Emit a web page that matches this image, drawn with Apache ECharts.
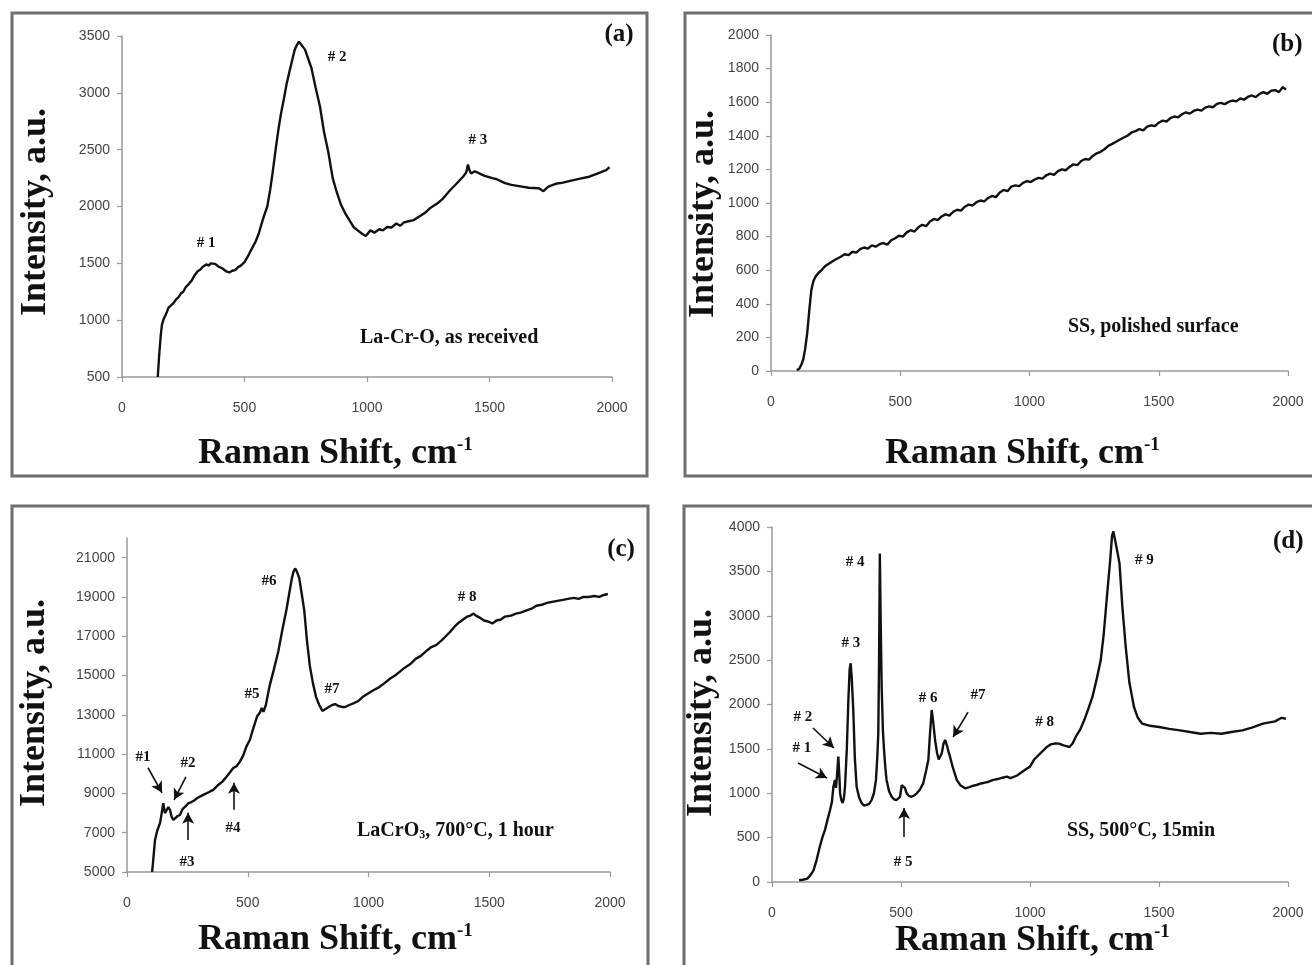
<!DOCTYPE html>
<html><head><meta charset="utf-8">
<script src="https://cdn.jsdelivr.net/npm/echarts@6/dist/echarts.min.js"></script>
<style>html,body{margin:0;padding:0;background:#fff}#c{width:1312px;height:965px}</style>
</head><body><div id="c"></div>
<script>
// ---------- DATA ----------
// Panel (a) La-Cr-O, as received
const xA=[146,152,158,163,170,181,190,198,210,220,230,241,250,260,275,285,295,309,320,330,344,355,362,369,380,395,410,425,438,450,462,473,485,500,516,530,545,558,570,580,593,605,615,627,640,650,661,672,685,696,705,714,722,730,740,747,760,773,790,808,825,842,860,876,893,911,928,945,962,980,995,1014,1030,1050,1065,1082,1100,1120,1135,1151,1170,1190,1220,1240,1260,1289,1310,1340,1365,1392,1405,1412,1418,1425,1440,1460,1480,1512,1530,1563,1590,1632,1660,1701,1720,1740,1770,1800,1838,1870,1907,1940,1976,1990];
const yA=[500,700,860,960,1010,1060,1110,1120,1150,1180,1200,1236,1250,1290,1324,1350,1390,1430,1445,1470,1490,1480,1500,1514,1495,1470,1455,1430,1420,1435,1440,1465,1480,1510,1570,1630,1690,1760,1850,1920,2000,2150,2300,2500,2700,2830,2950,3080,3200,3300,3380,3420,3450,3430,3400,3380,3300,3220,3050,2880,2650,2480,2250,2130,2020,1940,1880,1820,1790,1760,1740,1790,1770,1800,1790,1820,1815,1850,1830,1860,1870,1880,1920,1950,1990,2030,2070,2145,2200,2262,2300,2370,2320,2290,2310,2290,2270,2250,2240,2205,2190,2175,2165,2160,2135,2175,2200,2210,2230,2245,2262,2290,2320,2345];
// Panel (b) SS, polished surface
const xB=[100,110,118,125,132,140,148,156,164,172,184,196,210,225,240,255,270,285,300,315,330,345,360,375,390,405,420,435,450,465,480,495,510,525,540,555,570,585,600,615,630,645,660,675,690,705,720,735,750,765,780,795,810,825,840,855,870,885,900,915,930,945,960,975,990,1005,1020,1035,1050,1065,1080,1095,1110,1125,1140,1155,1170,1185,1200,1215,1230,1245,1260,1275,1290,1305,1320,1335,1350,1365,1380,1395,1410,1425,1440,1455,1470,1485,1500,1515,1530,1545,1560,1575,1590,1605,1620,1635,1650,1665,1680,1695,1710,1725,1740,1755,1770,1785,1800,1815,1830,1845,1860,1875,1890,1905,1920,1935,1950,1965,1980,1992];
const yB=[5,15,40,70,130,224,360,482,535,561,585,601,625,640,655,668,680,695,690,710,705,725,735,728,748,740,755,762,752,778,790,805,800,825,838,830,855,870,862,890,905,898,920,932,925,948,960,955,978,990,985,1005,1015,1010,1030,1042,1035,1062,1078,1070,1098,1105,1100,1120,1130,1125,1140,1150,1145,1165,1175,1168,1190,1200,1195,1215,1230,1225,1250,1262,1258,1280,1296,1305,1320,1340,1352,1365,1378,1390,1402,1420,1428,1440,1432,1455,1462,1458,1478,1490,1485,1505,1515,1510,1528,1540,1532,1548,1556,1550,1568,1575,1570,1590,1596,1588,1602,1610,1605,1622,1615,1632,1640,1630,1650,1660,1650,1668,1672,1660,1690,1675];
// Panel (c) LaCrO3, 700°C, 1 hour
const xC=[104,110,116,125,137,145,150,157,164,171,178,185,192,200,210,219,230,243,254,265,278,290,302,320,340,357,375,395,413,425,440,455,468,480,495,509,520,539,550,558,565,575,591,608,626,643,661,672,683,690,696,703,713,723,734,745,757,770,783,796,809,822,835,850,862,875,890,904,920,940,957,980,1000,1020,1043,1065,1090,1110,1130,1150,1175,1195,1217,1240,1260,1280,1304,1320,1340,1357,1375,1392,1409,1422,1435,1445,1460,1478,1495,1513,1530,1548,1565,1590,1610,1630,1652,1675,1695,1717,1739,1760,1782,1805,1826,1850,1870,1890,1913,1935,1955,1975,1991];
const yC=[5000,5800,6630,7100,7500,8100,8500,8000,7900,8300,8160,7800,7650,7700,7850,7900,8200,8350,8500,8550,8640,8750,8840,8950,9070,9180,9400,9600,9860,10050,10290,10400,10630,10900,11400,11730,12200,12930,13100,13350,13150,13500,14500,15300,16200,17300,18400,19200,19970,20300,20450,20300,19970,19200,18300,16800,15500,14600,13900,13500,13200,13300,13400,13500,13550,13450,13400,13400,13500,13600,13700,13950,14100,14250,14400,14600,14850,15000,15200,15400,15600,15850,16000,16250,16450,16550,16800,17000,17250,17500,17700,17850,18000,18050,18150,18050,17950,17800,17750,17650,17800,17850,18000,18050,18150,18200,18300,18400,18550,18600,18700,18750,18800,18850,18900,18950,18900,19000,19000,19050,19000,19100,19150];
// Panel (d) SS, 500°C, 15min
const xD=[105,120,137,150,161,173,185,195,205,215,225,232,238,244,248,252,257,261,264,269,274,279,283,290,296,301,305,309,315,321,328,338,348,357,367,377,386,395,403,408,412,415,418,421,425,430,434,439,444,454,464,474,483,490,496,503,509,515,522,531,541,551,561,573,586,597,606,613,619,625,632,640,646,651,658,665,671,678,684,690,700,716,730,748,765,780,793,810,825,840,858,875,893,910,925,950,984,1000,1016,1040,1065,1080,1095,1113,1130,1153,1165,1177,1195,1210,1226,1242,1258,1274,1286,1298,1310,1318,1323,1330,1340,1347,1358,1371,1385,1403,1418,1435,1465,1500,1540,1581,1620,1661,1700,1742,1780,1823,1860,1903,1950,1975,1992];
const yD=[19,25,38,80,131,250,394,500,585,700,811,900,1074,1150,1060,1200,1412,1200,1000,920,890,950,1074,1500,2050,2400,2464,2300,1940,1400,1074,950,886,860,868,880,924,1000,1150,1400,1675,2500,3700,3000,2200,1700,1500,1300,1150,1020,960,930,924,940,960,1090,1111,1060,999,970,960,975,999,1040,1111,1250,1375,1700,1938,1800,1600,1450,1380,1375,1450,1560,1600,1540,1470,1412,1300,1150,1090,1055,1070,1085,1093,1110,1120,1130,1150,1160,1175,1187,1170,1200,1270,1300,1380,1450,1521,1550,1560,1559,1540,1521,1560,1634,1720,1822,1950,2085,2280,2498,2800,3211,3600,3900,3950,3850,3700,3587,3100,2648,2250,1972,1850,1784,1760,1747,1725,1709,1690,1671,1680,1671,1690,1709,1740,1784,1810,1850,1840];

// Tick labels
const xTicks=[0,500,1000,1500,2000];
const yTicksA=[500,1000,1500,2000,2500,3000,3500];
const yTicksB=[0,200,400,600,800,1000,1200,1400,1600,1800,2000];
const yTicksC=[5000,7000,9000,11000,13000,15000,17000,19000,21000];
const yTicksD=[0,500,1000,1500,2000,2500,3000,3500,4000];

// Peak labels (data coordinates of label centres)
const labA=['# 1','# 2','# 3'], labAx=[343,878,1453], labAy=[1679,3314,2584];
const labC=['#1','#2','#3','#4','#5','#6','#7','# 8'], labCx=[66,253,248,439,518,588,849,1408], labCy=[10867,10561,5510,7245,14031,19796,14286,18980];
const labD=['# 1','# 2','# 3','# 4','# 5','# 6','#7','# 8','# 9'], labDx=[116,120,306,322,508,605,798,1057,1443], labDy=[1510,1859,2693,3606,225,2073,2107,1806,3628];
// Arrows [x1,y1,x2,y2] in data coordinates
const arrC=[[87,10306,145,9031],[244,9847,195,8673],[253,6633,253,8010],[443,8163,443,9541]];
const arrD=[[101,1341,213,1172],[159,1735,240,1510],[512,507,512,834],[760,1915,702,1634]];

// ---------- CHART ----------
const SERIF='"Liberation Serif","Times New Roman",serif';
const SANS='"Liberation Sans",Arial,sans-serif';
const chart=echarts.init(document.getElementById('c'),null,{renderer:'canvas'});
const grids=[
  {left:122,top:36,width:490,height:341},
  {left:771,top:35,width:517,height:336},
  {left:127,top:538,width:483,height:334},
  {left:772,top:527,width:516,height:355}
];
const plain=v=>String(v);
const axisLine={show:true,lineStyle:{color:'#9a9a9a',width:1.5}};
const axisTick={show:true,length:5,inside:false,lineStyle:{color:'#9a9a9a',width:1.2}};
function xAx(i){return {type:'value',gridIndex:i,min:0,max:2000,splitLine:{show:false},axisLine,
  axisTick:Object.assign({},axisTick,{customValues:xTicks}),
  axisLabel:{margin:24,fontFamily:SANS,fontSize:14,color:'#444',formatter:plain,customValues:xTicks}};}
function yAx(i,min,max,ticks){return {type:'value',gridIndex:i,min,max,splitLine:{show:false},axisLine,
  axisTick:Object.assign({},axisTick,{customValues:ticks}),
  axisLabel:{margin:12,fontFamily:SANS,fontSize:14,color:'#444',formatter:plain,customValues:ticks}};}
function pairs(x,y){return x.map((v,i)=>[v,y[i]]);}
function arrowLines(arr){return arr.map(a=>[{coord:[a[0],a[1]]},{coord:[a[2],a[3]]}]);}
function ser(i,x,y,arr){const s={type:'line',xAxisIndex:i,yAxisIndex:i,data:pairs(x,y),symbol:'none',
  lineStyle:{color:'#111',width:2.4},clip:true};
  if(arr){s.markLine={silent:true,symbol:['none','arrow'],symbolSize:[9,11],animation:false,
    lineStyle:{color:'#111',width:1.6,type:'solid'},label:{show:false},emphasis:{disabled:true},data:arrowLines(arr)};}
  return s;}

function xTitle(x,y){return {type:'text',left:x,top:y,style:{text:'{a|Raman Shift, cm}{s|-1}',
  rich:{a:{fontFamily:SERIF,fontWeight:'bold',fontSize:36,fill:'#111'},s:{fontFamily:SERIF,fontWeight:'bold',fontSize:19,fill:'#111',verticalAlign:'top'}}}};}
function yTitle(cx,cy){return {type:'text',x:cx,y:cy,rotation:Math.PI/2,style:{text:'Intensity, a.u.',fontFamily:SERIF,fontWeight:'bold',fontSize:36,fill:'#111',align:'center',verticalAlign:'middle'}};}
function txt(x,y,t,size,align){return {type:'text',x,y,style:{text:t,fontFamily:SERIF,fontWeight:'bold',fontSize:size,fill:'#111',align:align||'left',verticalAlign:'middle'}};}
function frame(x,y,w,h){return {type:'rect',shape:{x,y,width:w,height:h},style:{fill:'none',stroke:'#6e6e6e',lineWidth:3}};}

const graphics=[
  frame(12,13,635,463),frame(685,13,640,463),frame(12,506,636,470),frame(684,506,640,470),
  xTitle(198,436),xTitle(885,436),xTitle(198,922),xTitle(895,923),
  yTitle(36,212),yTitle(704,214),yTitle(35,703),yTitle(702,713),
  txt(619,35,'(a)',25,'center'),txt(1272,45,'(b)',25),txt(621,550,'(c)',25,'center'),txt(1273,542,'(d)',25),
  txt(360,338,'La-Cr-O, as received',20),
  txt(1068,327,'SS, polished surface',20),
  {type:'text',x:357,y:831,style:{text:'{m|LaCrO}{b|3}{m|, 700°C, 1 hour}',verticalAlign:'middle',
    rich:{m:{fontFamily:SERIF,fontWeight:'bold',fontSize:20,fill:'#111'},b:{fontFamily:SERIF,fontWeight:'bold',fontSize:12,fill:'#111',verticalAlign:'bottom'}}}},
  txt(1067,831,'SS, 500°C, 15min',20)
];

chart.setOption({
  animation:false,
  grid:grids,
  xAxis:[xAx(0),xAx(1),xAx(2),xAx(3)],
  yAxis:[yAx(0,500,3500,yTicksA),yAx(1,0,2000,yTicksB),yAx(2,5000,22000,yTicksC),yAx(3,0,4000,yTicksD)],
  series:[ser(0,xA,yA),ser(1,xB,yB),ser(2,xC,yC,arrC),ser(3,xD,yD,arrD)],
  graphic:graphics
});

// peak labels placed through the axes' scales
function peakLabels(gi,labs,xs,ys){return labs.map((t,i)=>{const p=chart.convertToPixel({gridIndex:gi},[xs[i],ys[i]]);
  return {type:'text',x:p[0],y:p[1],style:{text:t,fontFamily:SERIF,fontWeight:'bold',fontSize:15,fill:'#111',align:'center',verticalAlign:'middle'}};});}
chart.setOption({graphic:graphics.concat(peakLabels(0,labA,labAx,labAy),peakLabels(2,labC,labCx,labCy),peakLabels(3,labD,labDx,labDy))});
</script></body></html>
